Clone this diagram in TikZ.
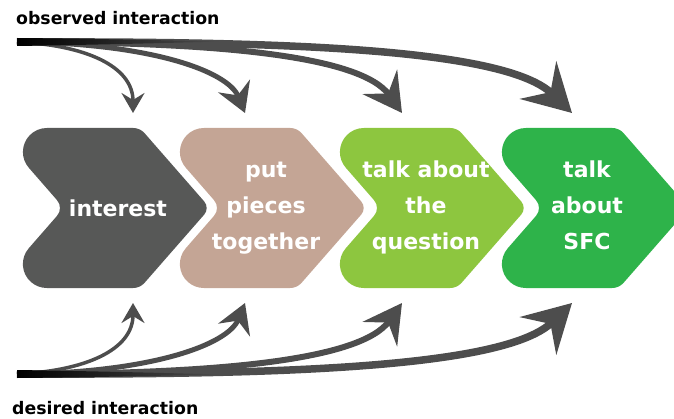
\documentclass[tikz,border=0pt]{standalone}
\usepackage{fontspec}
\setmainfont{DejaVu Sans}
\usetikzlibrary{arrows.meta}
\definecolor{cgrey}{HTML}{575857}
\definecolor{ctan}{HTML}{C4A595}
\definecolor{clgreen}{HTML}{8DC63F}
\definecolor{cgreen}{HTML}{2EB34A}
\definecolor{agrey}{HTML}{4D4D4D}
\tikzset{
  chevron/.pic={
    \path[pic actions] (133.2,290) -- (46.9,290)
      arc[start angle=90,end angle=221.2,radius=24] -- (57.0,217.9)
      arc[start angle=41.2,end angle=-41.2,radius=12] -- (28.8,169.8)
      arc[start angle=138.8,end angle=270,radius=24] -- (133.2,130)
      arc[start angle=270,end angle=318.8,radius=15] -- (204.2,203.4)
      arc[start angle=-41.2,end angle=41.2,radius=10] -- (144.5,284.9)
      arc[start angle=41.2,end angle=90,radius=15] -- cycle;
  },
  steptext/.style={text=white, align=center, font=\bfseries\fontsize{22}{36}\selectfont, inner sep=0pt},
  sidelabel/.style={text=black, font=\bfseries\fontsize{17.3}{20}\selectfont, inner sep=0pt, anchor=base west},
  shaft/.style={draw=agrey, line cap=butt},
}
\newcommand\arrowfan[1]{%
  \coordinate (#1s) at (17,376);
  \coordinate (#1a) at (133,305);
  \coordinate (#1b) at (245,305);
  \coordinate (#1c) at (402,305);
  \coordinate (#1d) at (572,305);
  \draw[shaft, line width=7.5, -{Stealth[length=47pt,width=52pt,inset=17pt]}]
    (#1s) .. controls (300,377) and (507,368) .. (#1d);
  \draw[shaft, line width=6, -{Stealth[length=38pt,width=42pt,inset=14pt]}]
    (#1s) .. controls (220,376) and (361.5,362) .. (#1c);
  \draw[shaft, line width=5, -{Stealth[length=29pt,width=34pt,inset=10pt]}]
    (#1s) .. controls (150,375) and (228,347) .. (#1b);
  \draw[shaft, line width=3.5, -{Stealth[length=20pt,width=23pt,inset=7pt]}]
    (#1s) .. controls (85,373) and (133,352) .. (#1a);
  \shade[left color=black, right color=agrey]
    (17,380) .. controls (80,379.5) and (150,378) .. (220,376.5)
    .. controls (150,374.5) and (80,373) .. (17,372) -- cycle;
}
\begin{document}
\begin{tikzpicture}[x=1pt,y=1pt]
\useasboundingbox (0,0) rectangle (674,418);
\clip (0,0) rectangle (674,418);
\pic[fill=cgrey] at (0,0) {chevron};
\pic[fill=ctan] at (157,0) {chevron};
\pic[fill=clgreen] at (317,0) {chevron};
\pic[fill=cgreen] at (479,0) {chevron};
\node[steptext] (t1) at (118,210) {interest};
\node[steptext] (t2) at (266,210) {put\\pieces\\together};
\node[steptext] (t3) at (426,211) {talk about\\the\\question};
\node[steptext] (t4) at (587,213) {talk\\about\\SFC};
\begin{scope}
  \arrowfan{top}
\end{scope}
\begin{scope}[shift={(0,420)}, yscale=-1]
  \arrowfan{bot}
\end{scope}
\node[sidelabel] (obs) at (16,393) {observed interaction};
\node[sidelabel] (des) at (12,4) {desired interaction};
\end{tikzpicture}
\end{document}
